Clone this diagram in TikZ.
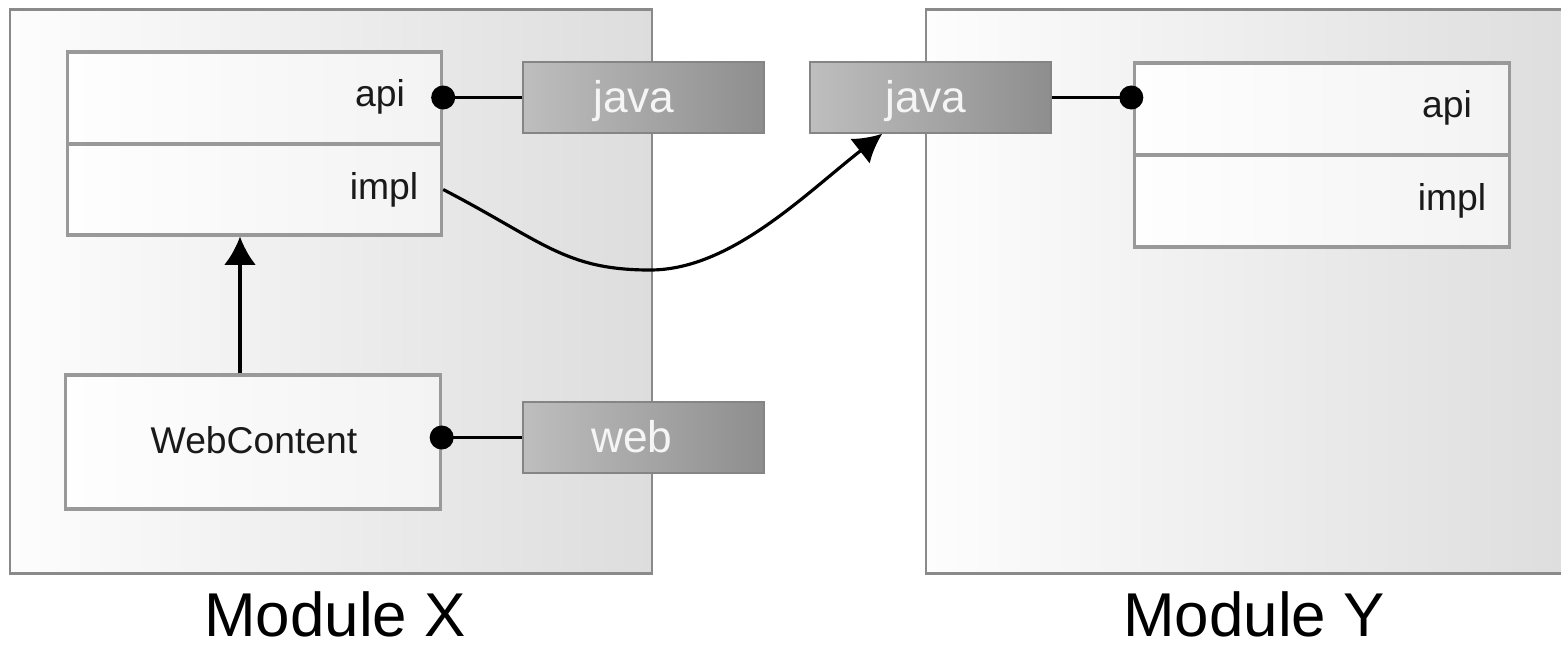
\documentclass[tikz,border=0pt]{standalone}
\usepackage{fontspec}
\setmainfont{Liberation Sans}
\usetikzlibrary{arrows.meta,calc}
\definecolor{modedge}{HTML}{8A8A8A}
\definecolor{boxedge}{HTML}{999999}
\definecolor{modleft}{HTML}{FDFDFD}
\definecolor{modright}{HTML}{DDDDDD}
\definecolor{boxleft}{HTML}{FEFEFE}
\definecolor{boxright}{HTML}{F3F3F3}
\definecolor{pkgleft}{HTML}{BEBEBE}
\definecolor{pkgright}{HTML}{8E8E8E}
\definecolor{pkgedge}{HTML}{858585}
\definecolor{pkgtext}{HTML}{F5F5F5}
\definecolor{inktext}{HTML}{1A1A1A}
\begin{document}
\begin{tikzpicture}[x=0.01cm,y=-0.01cm,
  module/.style={draw=modedge,line width=0.7pt,left color=modleft,right color=modright,rectangle,inner sep=0pt},
  part/.style={draw=boxedge,line width=0.9pt,left color=boxleft,right color=boxright,rectangle,inner sep=0pt},
  pkg/.style={draw=pkgedge,line width=0.4pt,left color=pkgleft,right color=pkgright,rectangle,inner sep=0pt,minimum width=2.41cm,minimum height=0.71cm},
  pkgtxt/.style={text=pkgtext,font=\fontsize{12.6}{14}\selectfont,anchor=base,inner sep=0pt},
  parttxt/.style={text=inktext,font=\fontsize{10.6}{12}\selectfont,anchor=base,inner sep=0pt},
  modtxt/.style={text=black,font=\fontsize{17.6}{20}\selectfont,anchor=base,inner sep=0pt},
  conn/.style={draw=black,line width=0.9pt},
  tipstyle/.style={-{Latex[length=8pt,width=9pt]}},
  dotnode/.style={circle,fill=black,inner sep=0pt,minimum size=0.24cm}]
\useasboundingbox (0,0) rectangle (1561,648);
\fill[white] (0,0) rectangle (1561,648);

% modules
\node[module,minimum width=6.42cm,minimum height=5.64cm] (mx) at (331,291.5) {};
\node[module,minimum width=6.56cm,minimum height=5.64cm] (my) at (1254,291.5) {};

% parts of module X
\node[part,minimum width=3.74cm,minimum height=0.92cm] (xapi) at (254.5,98) {};
\node[part,minimum width=3.74cm,minimum height=0.91cm] (ximpl) at (254.5,189.5) {};
\node[part,minimum width=3.74cm,minimum height=1.34cm] (xweb) at (253,442) {};
% parts of module Y
\node[part,minimum width=3.74cm,minimum height=0.92cm] (yapi) at (1322,109) {};
\node[part,minimum width=3.74cm,minimum height=0.92cm] (yimpl) at (1322,201) {};

% part labels
\node[parttxt] (txapi) at (380,106) {api};
\node[parttxt] (tximpl) at (384,199) {impl};
\node[parttxt] (txweb) at (254,453) {WebContent};
\node[parttxt] (tyapi) at (1447,117) {api};
\node[parttxt] (tyimpl) at (1452,210) {impl};

% packages
\node[pkg] (jx) at (643.5,97.5) {};
\node[pkg] (jy) at (930.5,97.5) {};
\node[pkg] (wx) at (643.5,437.5) {};
\node[pkgtxt] (tjx) at (634,112.5) {java};
\node[pkgtxt] (tjy) at (926,112.5) {java};
\node[pkgtxt] (twx) at (632,452.5) {web};

% module labels
\node[modtxt] (lmx) at (335,636) {Module X};
\node[modtxt] (lmy) at (1254,636) {Module Y};

% interface dots
\node[dotnode] (dxapi) at (xapi.east |- jx.west) {};
\node[dotnode] (dxweb) at (xweb.east |- wx.west) {};
\node[dotnode] (dyapi) at ([xshift=-0.02cm]yapi.west |- jy.east) {};

% connectors
\draw[conn] (dxapi.center) -- (jx.west);
\draw[conn] (dxweb.center) -- (wx.west);
\draw[conn] (jy.east) -- (dyapi.center);

\draw[conn,tipstyle] ([xshift=-0.13cm]xweb.north) -- ([xshift=-0.13cm]xweb.north |- ximpl.south);

\coordinate (cb) at (650,270);
\coordinate (tip) at ($(jy.south west)+(73,0)$);
\draw[conn,tipstyle] (ximpl.east) .. controls +(100,52) and +(-85,0) .. (cb)
   .. controls +(80,0) and +(-79,62) .. (tip);
\end{tikzpicture}
\end{document}
